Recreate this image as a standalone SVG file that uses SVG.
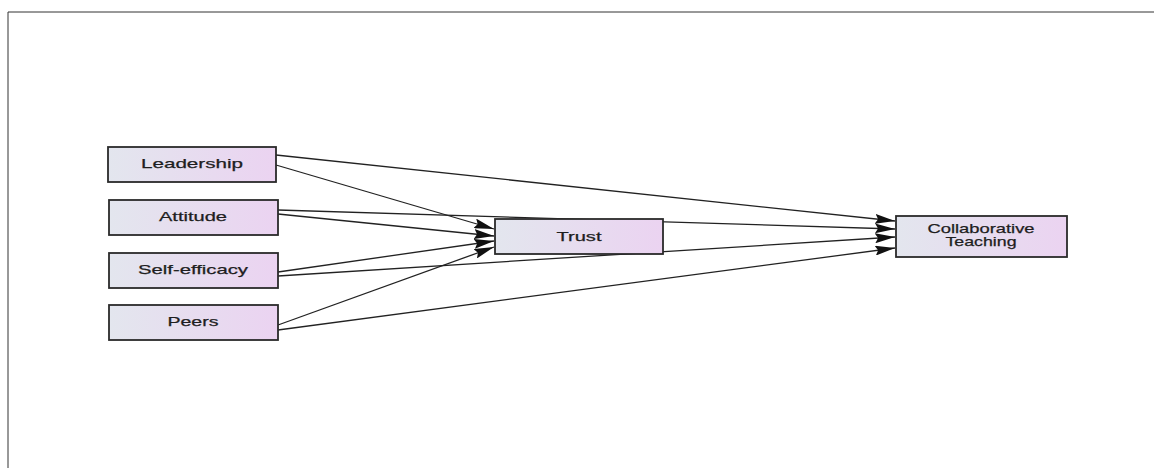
<svg xmlns="http://www.w3.org/2000/svg" width="1154" height="468" viewBox="0 0 1154 468">
<style>
.box{stroke:#2a2a2a;stroke-width:1.8;fill:url(#g)}
.lbl{font-family:"Liberation Sans",Arial,sans-serif;font-size:13px;fill:#1e1e1e;text-anchor:middle;stroke:#1e1e1e;stroke-width:0.25}
.edge{stroke:#222;stroke-width:1.3;fill:none;marker-end:url(#ah)}
</style>
<defs>
<linearGradient id="g" x1="0" y1="0" x2="1" y2="0">
<stop offset="0" stop-color="#e3e6ee"/>
<stop offset="1" stop-color="#ebd3f1"/>
</linearGradient>
<marker id="ah" viewBox="0 0 20 10" refX="20" refY="5" markerWidth="20" markerHeight="10" markerUnits="userSpaceOnUse" orient="auto">
<path d="M0,0 L20,5 L0,10 L3,5 Z" fill="#111"/>
</marker>
</defs>
<rect width="1154" height="468" fill="#fff"/>
<path d="M1154,12 H8 V468" fill="none" stroke="#333" stroke-width="1"/>
<g id="connectors">
<line class="edge" x1="276" y1="155" x2="895" y2="221"/>
<line class="edge" x1="276" y1="165" x2="494" y2="229"/>
<line class="edge" x1="278" y1="210" x2="895" y2="229"/>
<line class="edge" x1="278" y1="214" x2="494" y2="236"/>
<line class="edge" x1="278" y1="272" x2="494" y2="241"/>
<line class="edge" x1="278" y1="276" x2="895" y2="237"/>
<line class="edge" x1="278" y1="325" x2="494" y2="247"/>
<line class="edge" x1="278" y1="330" x2="895" y2="248"/>
</g>
<g id="leadership">
<rect class="box" x="108" y="147" width="168" height="35"/>
<text class="lbl" x="192" y="168" textLength="102" lengthAdjust="spacingAndGlyphs">Leadership</text>
</g>
<g id="attitude">
<rect class="box" x="109" y="200" width="169" height="35"/>
<text class="lbl" x="193" y="221" textLength="68" lengthAdjust="spacingAndGlyphs">Attitude</text>
</g>
<g id="self-efficacy">
<rect class="box" x="109" y="253" width="169" height="35"/>
<text class="lbl" x="193" y="274" textLength="110" lengthAdjust="spacingAndGlyphs">Self-efficacy</text>
</g>
<g id="peers">
<rect class="box" x="109" y="305" width="169" height="35"/>
<text class="lbl" x="193" y="326" textLength="51" lengthAdjust="spacingAndGlyphs">Peers</text>
</g>
<g id="trust">
<rect class="box" x="495" y="219" width="168" height="35"/>
<text class="lbl" x="579" y="241" textLength="45" lengthAdjust="spacingAndGlyphs">Trust</text>
</g>
<g id="collaborative-teaching">
<rect class="box" x="896" y="216" width="171" height="41"/>
<text class="lbl" x="981" y="233" textLength="107" lengthAdjust="spacingAndGlyphs">Collaborative</text>
<text class="lbl" x="981" y="246" textLength="71" lengthAdjust="spacingAndGlyphs">Teaching</text>
</g>
</svg>
